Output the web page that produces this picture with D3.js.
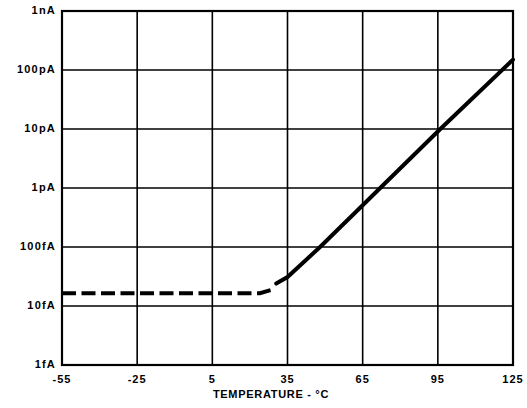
<!DOCTYPE html>
<html lang="en">
<head>
    <meta charset="UTF-8">
    <script src="https://d3js.org/d3.v7.min.js"></script>
    <style>
        body { margin: 0; background: white; }
        svg text {
            font-family: "Liberation Sans", Arial, Helvetica, sans-serif;
            font-weight: bold;
            fill: black;
        }
    </style>
</head>
<body>
    <svg id="vis"></svg>
    <script>
        const width = 527;
        const height = 408;

        // temperature ticks (°C) and current ticks (A)
        const xTicks = [-55, -25, 5, 35, 65, 95, 125];
        const yTicks = [1e-15, 1e-14, 1e-13, 1e-12, 1e-11, 1e-10, 1e-9];
        const yTickLabels = ["1fA", "10fA", "100fA", "1pA", "10pA", "100pA", "1nA"];

        // flat leakage floor (dashed)
        const dashedTemp = [-55, 0, 24, 29];
        const dashedCurrent = [1.65e-14, 1.65e-14, 1.65e-14, 1.9e-14];

        // exponential rise (solid)
        const solidTemp = [30.5, 35, 48, 65, 72, 96, 125];
        const solidCurrent = [2.4e-14, 3.1e-14, 1e-13, 5.1e-13, 1e-12, 1e-11, 1.5e-10];

        const margin = { top: 11, right: 14, bottom: 43, left: 62 };

        const svg = d3.select("#vis").attr("width", width).attr("height", height);

        const x = d3.scaleLinear().domain([-55, 125]).range([margin.left, width - margin.right]);
        const y = d3.scaleLog().domain([1e-15, 1e-9]).range([height - margin.bottom, margin.top]);

        // grid
        svg.append("g")
            .selectAll("line")
            .data(xTicks)
            .join("line")
            .attr("x1", d => x(d)).attr("x2", d => x(d))
            .attr("y1", y(1e-9)).attr("y2", y(1e-15))
            .attr("stroke", "black").attr("stroke-width", 1.6);

        svg.append("g")
            .selectAll("line")
            .data(yTicks)
            .join("line")
            .attr("x1", x(-55)).attr("x2", x(125))
            .attr("y1", d => y(d)).attr("y2", d => y(d))
            .attr("stroke", "black").attr("stroke-width", 1.6);

        // frame
        svg.append("rect")
            .attr("x", x(-55)).attr("y", y(1e-9))
            .attr("width", x(125) - x(-55))
            .attr("height", y(1e-15) - y(1e-9))
            .attr("fill", "none").attr("stroke", "black").attr("stroke-width", 2.2);

        // tick labels
        svg.append("g")
            .selectAll("text")
            .data(yTicks)
            .join("text")
            .attr("x", margin.left - 6)
            .attr("y", d => y(d))
            .attr("text-anchor", "end")
            .attr("dominant-baseline", "middle")
            .attr("font-size", 11)
            .attr("letter-spacing", 1.2)
            .text((d, i) => yTickLabels[i]);

        svg.append("g")
            .selectAll("text")
            .data(xTicks)
            .join("text")
            .attr("x", d => x(d))
            .attr("y", height - margin.bottom + 15)
            .attr("text-anchor", "middle")
            .attr("dominant-baseline", "middle")
            .attr("font-size", 11)
            .attr("letter-spacing", 1)
            .text(d => d < 0 ? "-" + Math.abs(d) : d);

        svg.append("text")
            .attr("x", 271)
            .attr("y", height - margin.bottom + 30)
            .attr("text-anchor", "middle")
            .attr("dominant-baseline", "middle")
            .attr("font-size", 11)
            .attr("letter-spacing", 0.7)
            .text("TEMPERATURE - °C");

        // curve
        const line = d3.line()
            .x(d => x(d[0]))
            .y(d => y(d[1]));

        svg.append("path")
            .datum(dashedTemp.map((t, i) => [t, dashedCurrent[i]]))
            .attr("d", line)
            .attr("fill", "none")
            .attr("stroke", "black")
            .attr("stroke-width", 4)
            .attr("stroke-dasharray", "14,5.5");

        svg.append("path")
            .datum(solidTemp.map((t, i) => [t, solidCurrent[i]]))
            .attr("d", line)
            .attr("fill", "none")
            .attr("stroke", "black")
            .attr("stroke-width", 4)
            .attr("stroke-linecap", "round");
    </script>
</body>
</html>
